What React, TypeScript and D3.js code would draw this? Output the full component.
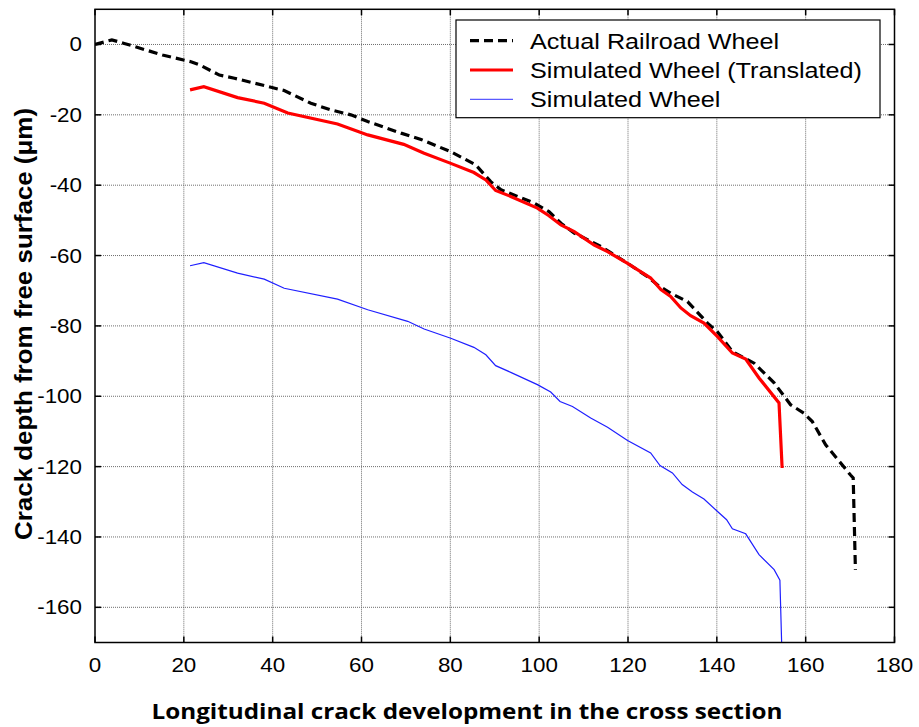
import React from "react";
import * as d3 from "d3";

const actualX = [0, 3.8, 6.6, 15.2, 21.6, 23.9, 28.0, 31.4, 38.5, 42.6, 48.6, 53.1, 57.6, 61.4, 68.9, 73.4, 80.1, 85.7, 89.1, 91.4, 98.9, 102.2, 104.9, 107.9, 113.9, 119.9, 124.4, 126.6, 129.6, 133.4, 137.9, 140.1, 143.5, 148.4, 152.9, 156.6, 159.6, 161.5, 164.5, 170.1, 170.7, 171.2];
const actualY = [0, 1.3, 0.3, -3.0, -4.9, -6.0, -8.7, -9.6, -11.8, -13.1, -16.7, -18.6, -20.0, -21.9, -25.2, -27.0, -30.5, -34.2, -39.0, -41.3, -45.1, -47.5, -50.8, -53.6, -57.4, -62.2, -66.0, -68.3, -70.7, -73.1, -79.2, -81.6, -87.3, -90.6, -96.2, -102.4, -104.8, -107.2, -113.8, -122.4, -123.2, -149.3];

const transX = [21.4, 24.5, 32.1, 38.1, 43.4, 54.6, 61.4, 69.5, 74.1, 80.1, 85.3, 88.0, 90.2, 93.6, 99.6, 102.2, 104.9, 107.9, 112.4, 115.4, 119.9, 125.1, 127.4, 129.6, 131.9, 134.1, 137.1, 140.1, 143.5, 146.5, 149.5, 154.0, 154.7];
const transY = [-12.9, -12.0, -15.1, -16.7, -19.5, -22.6, -25.7, -28.4, -30.9, -33.8, -36.4, -38.5, -41.5, -43.2, -46.5, -48.7, -51.3, -53.2, -57.0, -58.9, -62.2, -66.4, -69.7, -71.6, -74.9, -77.1, -79.2, -83.0, -87.7, -89.4, -94.8, -101.9, -120.4];

const simX = [21.4, 24.5, 32.1, 38.1, 42.6, 54.6, 61.4, 70.4, 74.1, 80.1, 85.3, 88.0, 90.2, 93.6, 99.6, 102.6, 104.7, 107.5, 111.6, 115.4, 119.9, 125.1, 127.2, 130.0, 132.2, 134.5, 137.1, 140.1, 142.2, 143.5, 146.5, 149.5, 152.9, 154.2, 154.7];
const simY = [-62.9, -62.0, -65.0, -66.7, -69.3, -72.4, -75.4, -78.7, -80.9, -83.5, -86.1, -88.2, -91.3, -93.2, -96.7, -98.8, -101.5, -102.9, -106.2, -108.8, -112.6, -116.1, -119.7, -121.8, -125.1, -127.2, -129.2, -132.7, -135.1, -137.7, -139.1, -145.0, -149.3, -152.3, -175];

const xTicks = [0, 20, 40, 60, 80, 100, 120, 140, 160, 180];
const yTicks = [0, -20, -40, -60, -80, -100, -120, -140, -160];

const legendLabels = ["Actual Railroad Wheel", "Simulated Wheel (Translated)", "Simulated Wheel"];

const xTitle = "Longitudinal crack development in the cross section";
const yTitle = "Crack depth from free surface (\u03BCm)";

export default function App() {
  const left = 95, right = 894.5, top = 9.3, bottom = 642.5;
  const x = d3.scaleLinear().domain([0, 180]).range([left, right]);
  const y = d3.scaleLinear().domain([10, -170]).range([top, bottom]);
  const mk = (xs: number[], ys: number[]) =>
    d3.line<number>().x((_, i) => x(xs[i])).y((_, i) => y(ys[i]))(xs.map((_, i) => i)) || "";

  const tickFont = "'Liberation Sans', Arial, sans-serif";
  const sx = 1.12;
  const tl = 6;

  return (
    <svg width={919} height={727} style={{ position: "absolute", left: 0, top: 0, background: "#fff" }}>
      <defs>
        <clipPath id="plotclip">
          <rect x={left} y={top} width={right - left} height={bottom - top} />
        </clipPath>
      </defs>
      <rect x={0} y={0} width={919} height={727} fill="#fff" />
      {/* grid */}
      {xTicks.slice(1, -1).map((t) => (
        <line key={"gx" + t} x1={x(t)} x2={x(t)} y1={top} y2={bottom} stroke="#6e6e6e" strokeWidth={1} strokeDasharray="1,1" />
      ))}
      {yTicks.map((t) => (
        <line key={"gy" + t} x1={left} x2={right} y1={y(t)} y2={y(t)} stroke="#6e6e6e" strokeWidth={1} strokeDasharray="1,1" />
      ))}
      {/* data */}
      <g clipPath="url(#plotclip)">
        <path d={mk(simX, simY)} fill="none" stroke="#1f1fff" strokeWidth={1.2} />
        <path d={mk(actualX, actualY)} fill="none" stroke="#000" strokeWidth={3.2} strokeDasharray="9,5" />
        <path d={mk(transX, transY)} fill="none" stroke="#ff0000" strokeWidth={3.2} />
      </g>
      {/* axes box */}
      <rect x={left} y={top} width={right - left} height={bottom - top} fill="none" stroke="#000" strokeWidth={1.5} />
      {/* ticks */}
      {xTicks.map((t) => (
        <g key={"tx" + t}>
          <line x1={x(t)} x2={x(t)} y1={bottom} y2={bottom - tl} stroke="#000" strokeWidth={1.5} />
          <line x1={x(t)} x2={x(t)} y1={top} y2={top + tl} stroke="#000" strokeWidth={1.5} />
          <text transform={`translate(${x(t)},672) scale(${sx},1)`} textAnchor="middle" fontFamily={tickFont} fontSize={20} fill="#000">
            {t}
          </text>
        </g>
      ))}
      {yTicks.map((t) => (
        <g key={"ty" + t}>
          <line x1={left} x2={left + tl} y1={y(t)} y2={y(t)} stroke="#000" strokeWidth={1.5} />
          <line x1={right} x2={right - tl} y1={y(t)} y2={y(t)} stroke="#000" strokeWidth={1.5} />
          <text transform={`translate(82,${y(t) + 7}) scale(${sx},1)`} textAnchor="end" fontFamily={tickFont} fontSize={20} fill="#000">
            {t}
          </text>
        </g>
      ))}
      {/* legend */}
      <rect x={456} y={20} width={424} height={97.7} fill="#fff" stroke="#000" strokeWidth={1.2} />
      {legendLabels.map((lab, i) => {
        const cy = 40.7 + i * 29.3;
        const stroke = i === 0 ? "#000" : i === 1 ? "#ff0000" : "#5a5aff";
        return (
          <g key={lab}>
            <line x1={470} x2={513} y1={cy} y2={cy} stroke={stroke} strokeWidth={i === 2 ? 1.2 : 3.2} strokeDasharray={i === 0 ? "9,5" : undefined} />
            <text transform={`translate(530,${cy + 8}) scale(1.145,1)`} fontFamily={tickFont} fontSize={22} fill="#000">
              {lab}
            </text>
          </g>
        );
      })}
      {/* titles */}
      <text x={467} y={719} textAnchor="middle" fontFamily="'Open Sans', 'Liberation Sans', sans-serif" fontWeight="bold" fontSize={22} textLength={631} lengthAdjust="spacingAndGlyphs" fill="#000">
        {xTitle}
      </text>
      <text transform={`translate(32,324) rotate(-90) scale(1,${sx})`} textAnchor="middle" fontFamily={tickFont} fontWeight="bold" fontSize={22} textLength={432} lengthAdjust="spacingAndGlyphs" fill="#000">
        {yTitle}
      </text>
    </svg>
  );
}
